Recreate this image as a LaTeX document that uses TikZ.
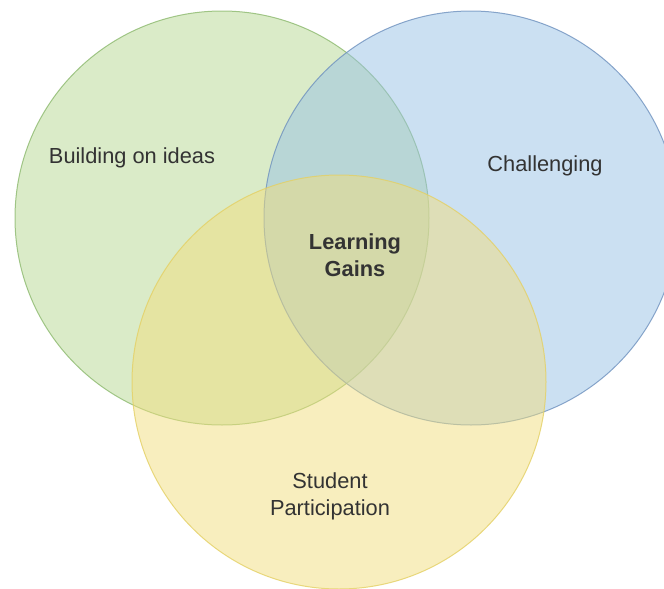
\documentclass[tikz,border=0pt]{standalone}
\usepackage{fontspec}
\setmainfont{Liberation Sans}

\definecolor{greenfill}{RGB}{181,215,145}
\definecolor{greenline}{RGB}{140,185,110}
\definecolor{bluefill}{RGB}{151,193,229}
\definecolor{blueline}{RGB}{110,145,190}
\definecolor{yellowfill}{RGB}{241,221,125}
\definecolor{yellowline}{RGB}{228,208,100}

\begin{document}
\begin{tikzpicture}[x = 1pt, y = -1pt,
    venn/.style = {line width = 1pt, fill opacity = 0.5, draw opacity = 0.8},
    txt/.style = {text = black!80, align = center, inner sep = 0pt, font = \fontsize{21.8}{27}\selectfont}]
  \useasboundingbox (0,0) rectangle (664,589);
  \clip (0,0) rectangle (664,589);
  % the three sets
  \path[venn, fill = greenfill, draw = greenline] (222,218) circle[radius = 207pt];
  \path[venn, fill = bluefill, draw = blueline] (471,218) circle[radius = 207pt];
  \path[venn, fill = yellowfill, draw = yellowline] (339,382) circle[radius = 207pt];
  % labels
  \node[txt] (building) at (132,158) {Building on ideas};
  \node[txt] (challenging) at (545,166) {Challenging};
  \node[txt, font = \fontsize{21.8}{27}\selectfont\bfseries] (gains) at (355,255) {Learning\\Gains};
  \node[txt] (participation) at (330,496) {Student\\Participation};
\end{tikzpicture}
\end{document}
